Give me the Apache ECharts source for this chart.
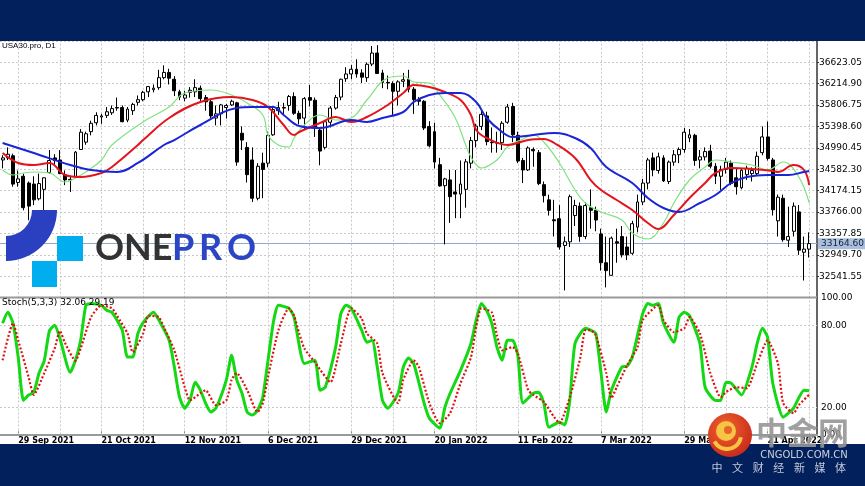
<!DOCTYPE html>
<html>
<head>
<meta charset="utf-8">
<script src="https://cdn.jsdelivr.net/npm/echarts@6/dist/echarts.min.js"></script>
<style>
html, body { margin: 0; padding: 0; background: #fff; }
#chart { width: 865px; height: 486px; }
</style>
</head>
<body>
<div id="chart"></div>
<script>
// daily bars, [open, close, low, high]
const candles = [
  [34760,34800,34600,34850],[34800,34870,34760,35000],[34840,34300,34250,34880],[34330,34400,34250,34560],
  [34450,33850,33800,34500],[34320,33880,33610,34350],[34300,34000,33900,34450],[34020,34310,33990,34500],
  [34200,34420,33790,34430],[34520,34750,34500,34950],[34800,34750,34650,34870],[34760,34500,34490,34950],
  [34480,34380,34280,34560],[34390,34380,34150,34450],[34440,34910,34430,34930],[34960,35290,34950,35350],
  [35100,35260,35050,35300],[35300,35460,35230,35510],[35470,35610,35420,35670],[35580,35600,35450,35640],
  [35610,35680,35560,35770],[35660,35740,35620,35800],[35760,35750,35700,35950],[35760,35490,35480,35800],
  [35520,35730,35480,35770],[35700,35820,35620,35850],[35860,35910,35800,35990],[35910,36050,35880,36080],
  [36060,36160,35960,36170],[36100,36130,36050,36200],[36140,36330,36100,36480],[36330,36430,36300,36565],
  [36430,36320,36200,36500],[36300,36080,35980,36360],[36060,35960,35900,36100],[35940,36000,35880,36080],
  [36050,36090,35950,36150],[36060,36140,35960,36300],[36130,35930,35880,36180],[35950,35870,35700,36000],
  [35870,35600,35560,35920],[35560,35640,35420,35800],[35640,35810,35420,35830],[35760,35800,35550,35830],
  [35810,35880,35790,35910],[35850,34720,34650,35870],[35270,35140,34950,35400],[35000,34480,34330,35100],
  [34760,34030,33960,35000],[34030,34640,33990,34700],[34700,34580,34030,34900],[34700,35230,34620,35300],
  [35240,35720,35220,35780],[35700,35760,35620,35870],[35760,35750,35620,35850],[35800,35970,35700,36000],
  [35970,35650,35620,36050],[35650,35545,35440,35700],[35560,35930,35350,35960],[35950,35900,35780,36190],
  [35900,35365,35200,35950],[35330,34930,34660,35350],[35000,35490,34960,35520],[35480,35750,35380,35790],
  [35750,35950,35720,36000],[35960,36300,35900,36310],[36310,36400,36250,36530],[36400,36490,36300,36570],
  [36490,36400,36330,36680],[36420,36340,36230,36490],[36330,36585,36250,36620],[36590,36800,36550,36934],
  [36800,36410,36400,36950],[36420,36240,36130,36480],[36240,36230,36110,36370],[36220,36070,35600,36260],
  [36070,36250,35800,36280],[36260,36290,36150,36420],[36300,36110,36050,36480],[36110,35910,35640,36150],
  [35910,35880,35800,35960],[35880,35370,35330,35900],[35400,35030,35000,35500],[35300,34720,34600,35470],
  [34670,34265,34250,34800],[34270,34400,33150,34420],[34380,34060,33560,34570],[34150,34110,33650,34570],
  [34110,34300,33650,34750],[34200,34725,33850,34780],[34700,35130,34600,35200],[35130,35405,35000,35450],
  [35400,35630,35330,35700],[35600,35110,35040,35680],[35100,35090,34900,35380],[35080,35090,34900,35300],
  [35090,35460,34950,35500],[35480,35770,35450,35830],[35780,35240,35100,35850],[35230,34740,34700,35300],
  [34750,34570,34320,34800],[34570,34990,34550,35020],[34960,34935,34630,35000],[34900,34310,34280,34950],
  [34290,34080,33950,34350],[34000,33800,33700,34100],[33620,33600,33300,34000],[33640,33100,33050,33900],
  [33130,33200,32272,33300],[33200,34060,33100,34100],[33700,33890,33500,34000],[33880,33300,33200,33950],
  [33300,33890,33250,33950],[33850,33800,33450,34200],[33800,33615,33400,33870],[33350,32800,32650,33450],
  [32800,32650,32330,33300],[32560,33270,32550,33300],[33200,33175,32800,33450],[33300,32950,32900,33500],
  [33100,32950,32850,33300],[32980,33545,32950,33600],[33480,33960,33380,34100],[33960,34320,33900,34400],
  [34320,34760,34200,34800],[34800,34570,34450,34900],[34560,34820,34500,34900],[34800,34360,34340,34850],
  [34350,34720,34300,34750],[34720,34860,34650,34950],[34860,34960,34700,35000],[34960,35290,34900,35372],
  [35180,35240,35100,35350],[35230,34750,34650,35260],[34760,34820,34600,34950],[34820,34920,34750,35000],
  [34930,34640,34600,35050],[34640,34450,34300,34700],[34450,34580,34190,34650],[34580,34720,34500,34800],
  [34700,34310,34280,34750],[34420,34250,34100,34600],[34230,34565,34200,34600],[34480,34600,34380,34650],
  [34500,34560,34350,34620],[34500,34830,34450,34920],[34900,35200,34850,35400],[35200,34790,34750,35492],
  [34760,33810,33700,34800],[33600,34050,33300,34100],[34030,33240,33200,34100],[33230,33300,33100,33870],
  [33400,33880,33300,33950],[33770,33040,32950,33900],[33000,33060,32460,33300],[33060,33165,32900,33380]
];

// moving averages: [bar index, price]
const maFast = [[0,34569],[2,34474],[4,34512],[6,34531],[9,34512],[12,34340],[14,34417],[16,34531],[19,34760],[21,35046],
  [27,35485],[32,35771],[35,36038],[40,36095],[44,36000],[47,35847],[50,35618],[51,35237],[53,35046],[55,35008],
  [56,35179],[58,35427],[61,35618],[64,35523],[67,35561],[70,35904],[74,36324],[77,36362],[79,36247],[82,36228],
  [84,36000],[87,35561],[89,35046],[90,34817],[92,34607],[95,34760],[97,35008],[100,35160],[102,35237],[104,35103],
  [107,34703],[110,34188],[112,33940],[115,33768],[119,33615],[121,33367],[124,33253],[127,33558],[129,33940],[132,34378],
  [135,34626],[137,34760],[140,34722],[144,34664],[147,34569],[150,34722],[153,34436],[155,33940]];
const maMid = [[0,34893],[3,34703],[6,34664],[9,34703],[12,34474],[15,34436],[19,34512],[21,34627],[26,35046],[27,35141],
  [32,35561],[38,35866],[44,35961],[48,35904],[51,35770],[54,35427],[56,35237],[57,35294],[61,35465],[64,35580],
  [67,35484],[70,35580],[74,35809],[77,36038],[79,36190],[82,36152],[85,36057],[88,35904],[90,35618],[91,35332],
  [93,35179],[97,35046],[101,35141],[104,35160],[106,35084],[110,34798],[113,34378],[115,34187],[118,33997],[121,33806],
  [124,33558],[126,33444],[129,33711],[132,34035],[135,34321],[137,34512],[140,34607],[144,34588],[148,34550],[149,34531],
  [152,34664],[154,34569],[155,34283]];
const maSlow = [[0,35084],[6,34893],[13,34664],[17,34569],[22,34531],[26,34703],[31,35046],[33,35141],[38,35427],[45,35751],
  [48,35770],[52,35770],[54,35618],[57,35408],[61,35370],[67,35523],[70,35484],[73,35561],[77,35675],[79,35866],
  [82,36000],[85,36038],[88,36038],[91,35866],[93,35561],[96,35294],[98,35198],[102,35237],[106,35275],[110,35179],
  [113,34989],[116,34626],[121,34321],[124,34035],[127,33844],[130,33768],[134,33940],[137,34092],[140,34321],[143,34436],
  [147,34474],[151,34474],[154,34531],[155,34550]];

// Stoch(5,3,3): main (%K) and signal (%D)
const stochK = [[0,81.5],[1,89.5],[2,81.5],[3,56.6],[4,25],[5,28.9],[6,31],[7,45],[8,54],[9,76],[10,80],[11,70.5],[13,45.6],
  [14,54.4],[15,69],[16,94.6],[17,96],[19,94.6],[20,91],[21,89.5],[22,83.7],[23,76.4],[24,56.7],[25,56.7],[26,74],[27,82],
  [29,89.5],[30,84],[32,69],[33,49.4],[34,27.3],[35,19.3],[36,25],[37,38.3],[38,32.5],[39,23],[40,16.4],[41,19.3],[43,40],
  [44,58],[45,40],[46,30.2],[47,16.4],[48,14.2],[49,17.8],[50,27.3],[52,81.5],[53,94.6],[55,92.5],[56,86],[58,52],[60,54.4],
  [61,32.5],[62,34.6],[64,64],[65,88.5],[66,94.6],[67,92.5],[69,76.4],[70,67.6],[71,69],[72,49.4],[73,25],[74,19.3],[76,30.2],
  [77,49.4],[78,56],[79,52],[81,23],[82,12],[84,4.7],[85,20],[86,30.2],[88,47],[90,66.7],[91,83.7],[92,96],[93,91],[94,81.5],
  [95,64],[96,54.4],[97,69],[98,69],[99,58],[100,23],[102,30.2],[103,31],[104,23],[105,5.4],[107,9],[108,7],[109,25],[110,66.7],
  [112,77.8],[113,76.4],[114,74],[115,45],[116,16.4],[117,32.5],[119,49.4],[120,50],[121,56.6],[123,88.5],[124,96],[125,94.6],
  [126,96],[127,81.5],[129,67.6],[130,86],[131,89.5],[132,87],[134,66.7],[135,34.6],[137,25],[138,25],[139,38.3],[140,37.6],
  [142,29],[144,49.4],[145,66.7],[146,77.8],[147,71.3],[148,37.6],[150,12.7],[151,15.6],[152,19.3],[154,32.5],[155,32.06]];
const stochD = [[0,54.4],[2,81.5],[3,69],[5,42],[6,29],[8,45],[10,63],[11,76],[12,67],[14,54],[15,63],[17,86],[19,94.6],
  [21,92.5],[22,87],[24,74],[25,60.3],[27,74],[28,87],[30,86],[31,78.5],[33,61.7],[35,34.6],[36,25],[38,30.2],[39,32.5],
  [41,21.5],[43,25],[44,40],[45,45],[47,32.5],[49,16.4],[50,23],[51,42],[53,76.4],[55,92.5],[56,87],[57,74],[58,63],[60,53],
  [63,38.3],[65,66.7],[67,92.5],[69,85],[70,74],[72,66.7],[73,45],[76,23],[77,40],[79,54.4],[80,49.4],[82,23],[84,8.3],
  [86,15.6],[88,37.6],[90,56.6],[91,78.5],[92,92.5],[94,89.5],[95,72.7],[96,61.7],[98,64],[99,59.5],[101,32.5],[102,29],
  [104,23.8],[106,12.7],[107,8.3],[109,27.3],[111,56],[112,76.4],[113,76.4],[114,72.7],[116,45],[117,26.6],[118,34.6],
  [120,50.7],[122,64],[123,83.7],[126,94.6],[127,83.7],[129,75],[131,77.8],[132,86],[134,74],[136,45],[138,27.3],[139,31],
  [141,34.6],[143,33.9],[145,52],[147,69],[149,52],[150,23],[152,15.6],[153,21.5],[155,29.19]];

const lastPrice = 33164.60;
const stochLevels = [20, 80];
const closedDays = ['2021-12-24', '2022-04-15'];
const MONTHS = ['Jan','Feb','Mar','Apr','May','Jun','Jul','Aug','Sep','Oct','Nov','Dec'];

// trading calendar (weekdays minus closed days), one spare slot at the right edge
function tradingDays(start, count, skip) {
  const out = [];
  const d = new Date(start + 'T00:00:00Z');
  while (out.length < count) {
    const wd = d.getUTCDay();
    const iso = d.toISOString().slice(0, 10);
    if (wd !== 0 && wd !== 6 && skip.indexOf(iso) < 0) {
      out.push(d.getUTCDate() + ' ' + MONTHS[d.getUTCMonth()] + ' ' + d.getUTCFullYear());
    }
    d.setUTCDate(d.getUTCDate() + 1);
  }
  return out;
}
const days = tradingDays('2021-09-24', candles.length + 1, closedDays);

const gridBars = [];
for (let i = 3; i < candles.length; i += 8) gridBars.push(i);
const isLabelBar = (i) => i >= 3 && (i - 3) % 16 === 0;

const dashed = { color: '#c9c9c9', width: 1, type: [2, 2] };
const vLines = gridBars.map(i => ({ xAxis: i, lineStyle: dashed, label: { show: false } }));

// logo pieces: "ONE" as one run, "PRO" spread letter by letter
const logoLetters = [
  { ch: 'ONE', x: 95, c: '#333333' },
  { ch: 'P', x: 172, c: '#2b45c4' }, { ch: 'R', x: 199, c: '#2b45c4' }, { ch: 'O', x: 227, c: '#2b45c4' }
];
const taglineChars = '中文财经新媒体'.split('');

let chart = echarts.init(document.getElementById('chart'));

const option = {
  animation: false,
  backgroundColor: '#fff',
  textStyle: { fontFamily: 'DejaVu Sans' },
  grid: [
    { left: -3, right: 48, top: 40.9, height: 256.8 },
    { left: -3, right: 48, top: 298, height: 136.5 }
  ],
  xAxis: [
    { type: 'category', gridIndex: 0, data: days, boundaryGap: true,
      axisLine: { show: false }, axisTick: { show: false }, axisLabel: { show: false }, splitLine: { show: false } },
    { type: 'category', gridIndex: 1, data: days, boundaryGap: true,
      axisLine: { show: true, lineStyle: { color: '#9a9a9a', width: 2 } },
      axisTick: { show: true, inside: true, length: 3, alignWithLabel: true, interval: isLabelBar, lineStyle: { color: '#444' } },
      axisLabel: { interval: isLabelBar, align: 'left', margin: 2, fontSize: 8, fontWeight: 'bold', color: '#000', fontFamily: 'DejaVu Sans' },
      splitLine: { show: false } }
  ],
  yAxis: [
    { type: 'value', gridIndex: 0, position: 'right', min: 32133.40, max: 37031.20, interval: 408.15,
      axisLine: { show: true, lineStyle: { color: '#333', width: 1.5 } },
      axisTick: { show: true, length: 2, lineStyle: { color: '#333' } },
      axisLabel: { formatter: v => v.toFixed(2), showMinLabel: false, showMaxLabel: false,
        fontSize: 9, color: '#000', margin: 2, fontFamily: 'DejaVu Sans' },
      splitLine: { show: true, lineStyle: dashed } },
    { type: 'value', gridIndex: 1, position: 'right', min: 0, max: 100, interval: 20,
      axisLine: { show: true, lineStyle: { color: '#333', width: 1.5 } },
      axisTick: { show: false },
      axisLabel: { formatter: v => (v === 0 || v === 20 || v === 80 || v === 100) ? v.toFixed(2) : '',
        fontSize: 9, color: '#000', margin: 4, fontFamily: 'DejaVu Sans' },
      splitLine: { show: false } }
  ],
  series: [
    { type: 'candlestick', xAxisIndex: 0, yAxisIndex: 0, data: candles, barWidth: 3.4, z: 2,
      itemStyle: { color: '#fff', color0: '#000', borderColor: '#000', borderColor0: '#000', borderWidth: 1 },
      markLine: {
        silent: true, symbol: ['none', 'none'], z: 1, animation: false,
        data: vLines.concat([{
          yAxis: lastPrice,
          lineStyle: { color: '#8ea9cb', width: 1, type: 'solid' },
          label: { show: true, position: 'end', distance: 1, formatter: lastPrice.toFixed(2),
            backgroundColor: '#a9bfdc', color: '#14213d', fontSize: 9, padding: [1, 3], fontFamily: 'DejaVu Sans' }
        }])
      } },
    { type: 'line', xAxisIndex: 0, yAxisIndex: 0, data: maFast, smooth: 0.4, showSymbol: false, z: 3,
      lineStyle: { color: '#7ee37e', width: 1.2 } },
    { type: 'line', xAxisIndex: 0, yAxisIndex: 0, data: maMid, smooth: 0.4, showSymbol: false, z: 3,
      lineStyle: { color: '#e3141c', width: 2 } },
    { type: 'line', xAxisIndex: 0, yAxisIndex: 0, data: maSlow, smooth: 0.4, showSymbol: false, z: 3,
      lineStyle: { color: '#1a25d6', width: 2 } },
    { type: 'line', xAxisIndex: 1, yAxisIndex: 1, data: stochK, smooth: 0.2, showSymbol: false, z: 3,
      lineStyle: { color: '#13d813', width: 3 },
      markLine: {
        silent: true, symbol: ['none', 'none'], z: 1, animation: false,
        data: vLines.concat(stochLevels.map(v => ({ yAxis: v, lineStyle: dashed, label: { show: false } })))
      } },
    { type: 'line', xAxisIndex: 1, yAxisIndex: 1, data: stochD, smooth: 0.2, showSymbol: false, z: 4,
      lineStyle: { color: '#e01010', width: 2.2, type: [2, 2] } }
  ],
  graphic: [
    { type: 'rect', shape: { x: 0, y: 0, width: 865, height: 41 }, style: { fill: '#02205b' }, z: 50 },
    { type: 'rect', shape: { x: 0, y: 444, width: 865, height: 42 }, style: { fill: '#02205b' }, z: 50 },
    { type: 'line', shape: { x1: 0, y1: 297.5, x2: 817, y2: 297.5 }, style: { stroke: '#9a9a9a', lineWidth: 2 }, z: 40 },
    { type: 'text', x: 2, y: 42, style: { text: 'USA30.pro, D1', font: '8px "Liberation Sans"', fill: '#000' }, z: 60 },
    { type: 'text', x: 2, y: 298.5, style: { text: 'Stoch(5,3,3) 32.06 29.19', font: '9px "DejaVu Sans"', fill: '#000' }, z: 60 },
    // ONEPRO watermark
    { type: 'sector', shape: { cx: 6, cy: 210, r0: 26, r: 51, startAngle: 0, endAngle: Math.PI / 2, clockwise: true },
      style: { fill: '#2a40c0' }, z: 60 },
    { type: 'rect', shape: { x: 57, y: 236, width: 26, height: 25 }, style: { fill: '#00aeef' }, z: 60 },
    { type: 'rect', shape: { x: 32, y: 261, width: 25, height: 26 }, style: { fill: '#00aeef' }, z: 60 }
  ].concat(logoLetters.map(l => ({
    type: 'text', x: l.x, y: 248,
    style: { text: l.ch, font: 'bold 36px Lato', fill: l.c, verticalAlign: 'middle' }, z: 60
  }))).concat([
    // cngold watermark
    { type: 'circle', shape: { cx: 730, cy: 435, r: 22 },
      style: { fill: { type: 'radial', x: 0.4, y: 0.35, r: 0.7, colorStops: [{ offset: 0, color: '#f0642c' }, { offset: 1, color: '#c8281c' }] } }, z: 60 },
    { type: 'circle', shape: { cx: 726, cy: 431, r: 10 }, style: { fill: '#f8c443' }, z: 61 },
    { type: 'circle', shape: { cx: 728, cy: 430, r: 4 }, style: { fill: '#e8642c' }, z: 62 },
    { type: 'arc', shape: { cx: 727, cy: 435, r: 14, startAngle: Math.PI * 0.05, endAngle: Math.PI * 0.85, clockwise: true },
      style: { stroke: '#f8c443', lineWidth: 4, fill: null }, z: 61 },
    { type: 'text', x: 756, y: 432, style: { text: '中金网', font: 'bold 31px "Noto Sans CJK SC"', fill: 'rgba(150,150,150,0.9)', verticalAlign: 'middle' }, z: 60 },
    { type: 'text', x: 804, y: 455, style: { text: 'CNGOLD.COM.CN', font: '10px "DejaVu Sans"', fill: '#cdd2df', align: 'center', verticalAlign: 'middle' }, z: 60 }
  ]).concat(taglineChars.map((ch, k) => ({
    type: 'text', x: 717 + k * 20.6, y: 468,
    style: { text: ch, font: '11px "Noto Sans CJK SC"', fill: '#c3c8d6', align: 'center', verticalAlign: 'middle' }, z: 60
  })))
};

chart.setOption(option);
</script>
</body>
</html>
